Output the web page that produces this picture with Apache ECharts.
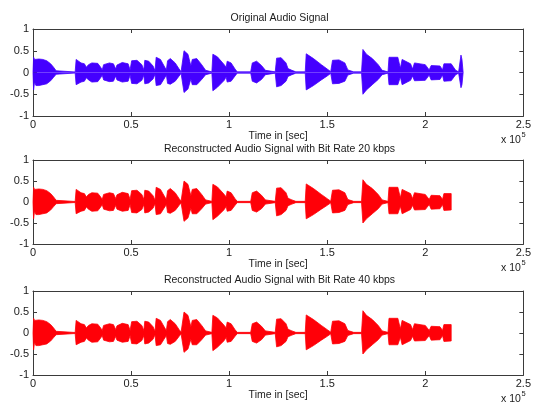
<!DOCTYPE html>
<html>
<head>
<meta charset="utf-8">
<script src="https://cdn.jsdelivr.net/npm/echarts@6/dist/echarts.min.js"></script>
<style>
html,body{margin:0;padding:0;background:#fff;}
#chart{width:534px;height:403px;}
</style>
</head>
<body>
<div id="chart"></div>
<script>
// ---- Data (time in units of 1e5 samples, amplitude envelope) ----
const titles = [
  'Original Audio Signal',
  'Reconstructed Audio Signal with Bit Rate 20 kbps',
  'Reconstructed Audio Signal with Bit Rate 40 kbps'
];
const xTicks = [0, 0.5, 1, 1.5, 2, 2.5];
const yTicks = [-1, -0.5, 0, 0.5, 1];
const xLabel = 'Time in [sec]';

// envelope of the original signal: time, upper peak, lower peak
const envX = [0.000,0.003,0.008,0.015,0.030,0.050,0.070,0.090,0.105,0.118,0.127,0.215,
  0.220,0.228,0.245,0.262,0.272,0.278,0.283,0.300,0.330,0.345,0.353,0.360,0.390,0.410,
  0.422,0.428,0.455,0.485,0.495,0.503,0.530,0.555,0.565,0.570,0.590,0.612,0.622,0.628,
  0.650,0.672,0.680,0.686,0.700,0.725,0.745,0.755,0.765,0.770,0.790,0.805,0.812,0.835,
  0.860,0.880,0.888,0.912,0.917,0.940,0.975,0.985,0.990,1.010,1.030,1.041,1.110,1.118,
  1.140,1.165,1.185,1.195,1.235,1.242,1.265,1.290,1.300,1.320,1.340,1.388,1.393,1.430,
  1.470,1.500,1.518,1.527,1.560,1.590,1.605,1.635,1.675,1.682,1.700,1.730,1.760,1.780,
  1.790,1.810,1.815,1.860,1.873,1.882,1.925,1.935,1.945,2.000,2.020,2.030,2.075,2.088,
  2.095,2.132,2.140,2.155,2.170,2.178,2.182,2.187,2.193];
const envUpper = [0,0.35,0.30,0.34,0.31,0.30,0.27,0.20,0.12,0.04,0.015,0.012,
  0.30,0.28,0.22,0.20,0.12,0.08,0.18,0.22,0.21,0.12,0.06,0.18,0.22,0.20,
  0.08,0.17,0.23,0.20,0.06,0.27,0.28,0.18,0.06,0.28,0.26,0.15,0.04,0.35,
  0.30,0.12,0.06,0.27,0.32,0.22,0.08,0.02,0.02,0.50,0.42,0.15,0.30,0.32,
  0.18,0.05,0.015,0.015,0.42,0.36,0.18,0.12,0.26,0.22,0.08,0.015,0.015,0.22,
  0.26,0.16,0.05,0.015,0.015,0.33,0.34,0.22,0.09,0.05,0.015,0.015,0.43,0.32,
  0.18,0.08,0.02,0.28,0.29,0.22,0.06,0.015,0.015,0.53,0.42,0.32,0.18,0.05,
  0.015,0.015,0.35,0.35,0.10,0.30,0.20,0.08,0.22,0.18,0.06,0.16,0.15,0.06,
  0.20,0.20,0.20,0.05,0.015,0.02,0.40,0.30,0];
const envLower = [0,-0.40,-0.22,-0.30,-0.30,-0.28,-0.26,-0.19,-0.11,-0.04,-0.015,-0.012,
  -0.28,-0.26,-0.22,-0.20,-0.12,-0.08,-0.17,-0.22,-0.21,-0.12,-0.06,-0.17,-0.21,-0.20,
  -0.08,-0.17,-0.22,-0.20,-0.06,-0.25,-0.26,-0.18,-0.06,-0.26,-0.24,-0.15,-0.04,-0.30,
  -0.28,-0.12,-0.06,-0.25,-0.27,-0.20,-0.08,-0.02,-0.02,-0.46,-0.38,-0.15,-0.28,-0.28,
  -0.16,-0.05,-0.015,-0.015,-0.42,-0.34,-0.18,-0.10,-0.22,-0.20,-0.08,-0.015,-0.015,-0.20,
  -0.24,-0.16,-0.05,-0.015,-0.015,-0.33,-0.30,-0.20,-0.09,-0.05,-0.015,-0.015,-0.40,-0.30,
  -0.17,-0.08,-0.02,-0.26,-0.25,-0.20,-0.06,-0.015,-0.015,-0.50,-0.40,-0.28,-0.16,-0.05,
  -0.015,-0.015,-0.28,-0.28,-0.10,-0.28,-0.18,-0.08,-0.19,-0.18,-0.06,-0.17,-0.16,-0.06,
  -0.20,-0.19,-0.19,-0.05,-0.015,-0.02,-0.35,-0.28,0];
// the reconstructed signals stop at t = 2.132e5 (no trailing click)
const reconEnd = 2.132;

const colors = ['#4400ff', '#ff0008', '#ff0008'];

// ---- Layout ----
const grids = [
  {left: 33, top: 29, width: 493, height: 87},
  {left: 33, top: 160, width: 493, height: 84},
  {left: 33, top: 291, width: 493, height: 84}
];
const FONT = '"Liberation Sans", Arial, Helvetica, sans-serif';

function pairs(xs, ys, endX) {
  const out = [];
  for (let i = 0; i < xs.length; i++) {
    if (endX !== undefined && xs[i] > endX) break;
    out.push([xs[i], ys[i]]);
  }
  if (endX !== undefined) out.push([endX, 0]);
  return out;
}

const xAxes = [], yAxes = [], series = [], graphics = [];
grids.forEach((g, i) => {
  const axisLine = {show: true, onZero: false, lineStyle: {color: '#3a3a3a', width: 1}};
  const tick = {show: true, inside: true, length: 4, lineStyle: {color: '#3a3a3a'}};
  xAxes.push({
    type: 'value', gridIndex: i, min: 0, max: 2.5, interval: 0.5, position: 'bottom',
    axisLine, axisTick: tick, splitLine: {show: false},
    axisLabel: {fontSize: 11, color: '#1a1a1a', margin: 3, fontFamily: FONT,
      formatter: v => String(v)},
    name: xLabel, nameLocation: 'middle', nameGap: 14,
    nameTextStyle: {fontSize: 10.5, color: '#1a1a1a', fontFamily: FONT}
  });
  xAxes.push({
    type: 'value', gridIndex: i, min: 0, max: 2.5, interval: 0.5, position: 'top',
    axisLine, axisTick: tick, axisLabel: {show: false}, splitLine: {show: false}
  });
  yAxes.push({
    type: 'value', gridIndex: i, min: -1, max: 1, interval: 0.5, position: 'left',
    axisLine, axisTick: tick, splitLine: {show: false},
    axisLabel: {fontSize: 11, color: '#1a1a1a', margin: 4, fontFamily: FONT,
      formatter: v => String(v)}
  });
  yAxes.push({
    type: 'value', gridIndex: i, min: -1, max: 1, interval: 0.5, position: 'right',
    axisLine, axisTick: tick, axisLabel: {show: false}, splitLine: {show: false}
  });
  const endX = i === 0 ? undefined : reconEnd;
  [envUpper, envLower].forEach(arr => {
    series.push({
      type: 'line', xAxisIndex: i * 2, yAxisIndex: i * 2,
      data: pairs(envX, arr, endX), showSymbol: false, symbol: 'none',
      lineStyle: {color: colors[i], width: 0.8}, areaStyle: {color: colors[i], opacity: 1},
      animation: false, silent: true
    });
  });
  graphics.push({
    type: 'text', x: g.left + g.width / 2, y: g.top - 11,
    style: {text: titles[i], font: '10.5px ' + FONT, fill: '#1a1a1a',
      textAlign: 'center', textVerticalAlign: 'middle'}
  });
  const by = g.top + g.height + 24.5;
  graphics.push({
    type: 'text', x: 501, y: by,
    style: {text: 'x 10', font: '10.5px ' + FONT, fill: '#1a1a1a',
      textAlign: 'left', textVerticalAlign: 'middle'}
  });
  graphics.push({
    type: 'text', x: 521.5, y: by - 6,
    style: {text: '5', font: '7.5px ' + FONT, fill: '#1a1a1a',
      textAlign: 'left', textVerticalAlign: 'middle'}
  });
});

const chart = echarts.init(document.getElementById('chart'), null, {renderer: 'canvas'});
chart.setOption({
  backgroundColor: '#ffffff',
  animation: false,
  grid: grids,
  xAxis: xAxes,
  yAxis: yAxes,
  series: series,
  graphic: graphics
});
</script>
</body>
</html>
